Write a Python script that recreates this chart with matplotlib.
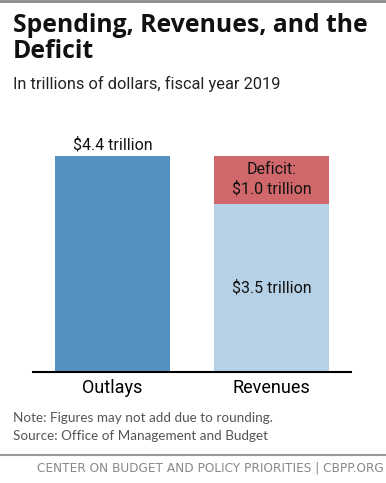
import matplotlib.pyplot as plt
from matplotlib.lines import Line2D

# data (trillions of dollars, FY2019)
categories = ['Outlays', 'Revenues']
outlays = 4.45
revenues = 3.46
deficit = 0.98
outlay_label = '$4.4 trillion'
revenue_label = '$3.5 trillion'
deficit_label = 'Deficit:\n$1.0 trillion'

narrow = 'Roboto'

fig = plt.figure(figsize=(3.86, 4.83), dpi=100)
ax = fig.add_axes([33 / 386, 1 - 372 / 483, 318 / 386, 243 / 483])

ax.bar(0, outlays, width=0.72, color='#5690c1')
ax.bar(1, revenues, width=0.72, color='#b6d0e5')
ax.bar(1, deficit, bottom=revenues, width=0.72, color='#d0676b')

ax.text(0, outlays + 0.07, outlay_label, ha='center', va='bottom',
        fontsize=11.5, family=narrow, color='#111111')
ax.text(1, revenues / 2, revenue_label, ha='center', va='center',
        fontsize=11.5, family=narrow, color='#111111')
ax.text(1, revenues + deficit / 2 + 0.02, deficit_label, ha='center', va='center',
        fontsize=11.5, family=narrow, color='#111111', linespacing=1.35)

ax.set_xlim(-0.5, 1.5)
ax.set_ylim(0, 5.0)
ax.set_xticks([0, 1])
ax.set_xticklabels(categories, fontsize=13, family=narrow)
ax.tick_params(axis='x', length=0, pad=5)
ax.set_yticks([])
for s in ['top', 'right', 'left']:
    ax.spines[s].set_visible(False)
ax.spines['bottom'].set_linewidth(1.5)

# header / footer
fig.add_artist(Line2D([0, 1], [1 - 1 / 483, 1 - 1 / 483], color='#8a8a8a', lw=2))
fig.text(13 / 386, 1 - 25 / 483, 'Spending, Revenues, and the',
         fontsize=17.8, fontweight='bold', family='Open Sans', va='center', color='#111111')
fig.text(13 / 386, 1 - 51 / 483, 'Deficit',
         fontsize=17.8, fontweight='bold', family='Open Sans', va='center', color='#111111')
fig.text(13 / 386, 1 - 84 / 483, 'In trillions of dollars, fiscal year 2019',
         fontsize=11.8, family=narrow, va='center', color='#222222')
fig.text(13 / 386, 1 - 418 / 483, 'Note: Figures may not add due to rounding.',
         fontsize=9.7, family='Lato', va='center', color='#555555')
fig.text(13 / 386, 1 - 436 / 483, 'Source: Office of Management and Budget',
         fontsize=9.7, family='Lato', va='center', color='#555555')
fig.add_artist(Line2D([0, 1], [1 - 455 / 483, 1 - 455 / 483], color='#999999', lw=1.5))
fig.text(384 / 386, 1 - 468 / 483, 'CENTER ON BUDGET AND POLICY PRIORITIES | CBPP.ORG',
         fontsize=8.7, family='DejaVu Sans', va='center', ha='right', color='#888888')

fig.savefig('out.png', dpi=100)
